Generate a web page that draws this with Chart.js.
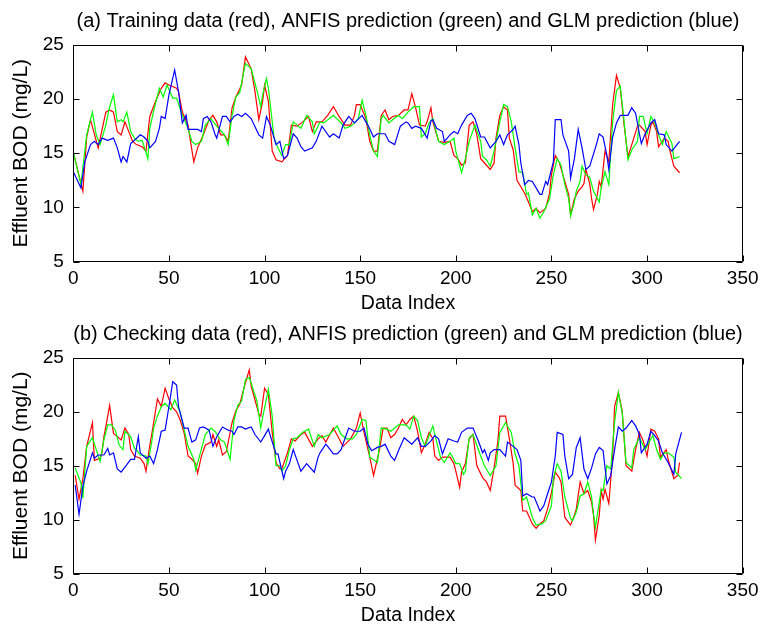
<!DOCTYPE html>
<html>
<head>
<meta charset="utf-8">
<script src="https://cdn.jsdelivr.net/npm/chart.js@4.4.1/dist/chart.umd.min.js"></script>
<style>
  html, body { margin: 0; padding: 0; background: #fff; }
  #wrap { position: relative; width: 772px; height: 628px; overflow: hidden; }
  canvas { position: absolute; left: 0; }
</style>
</head>
<body>
<div id="wrap">
  <canvas id="c1" width="772" height="313" style="top:0px"></canvas>
  <canvas id="c2" width="772" height="315" style="top:313px"></canvas>
</div>
<script>
// ---------- data (index, value) ----------
const xTicks = [0, 50, 100, 150, 200, 250, 300, 350];
const yTicks = [5, 10, 15, 20, 25];
const titleTrain = '(a) Training data (red), ANFIS prediction (green) and GLM prediction (blue)';
const titleCheck = '(b) Checking data (red), ANFIS prediction (green) and GLM prediction (blue)';
const xLabel = 'Data Index';
const yLabel = 'Effluent BOD (mg/L)';

const trainRed = [[0,15.1],[5,11.5],[7,16.5],[9,18.1],[13,15.5],[17,18.8],[19,19.0],[21,18.8],[23,17.0],[25,16.7],[27,17.9],[29,17.0],[31,16.1],[33,15.8],[36,15.6],[38,15.2],[40,18.4],[43,19.8],[46,21.0],[48,21.5],[50,21.3],[54,21.0],[55,20.7],[57,18.8],[60,17.6],[61,16.4],[63,14.2],[65,15.5],[68,16.7],[71,18.1],[73,18.5],[75,17.9],[77,16.7],[79,16.7],[81,16.1],[83,19.2],[85,20.2],[88,21.3],[90,23.9],[93,22.8],[95,20.7],[97,18.1],[99,19.8],[100,21.3],[102,19.8],[104,15.2],[106,14.4],[109,14.2],[112,14.8],[114,17.6],[117,17.5],[120,17.9],[123,18.4],[125,17.0],[127,17.9],[130,17.9],[133,18.5],[136,19.3],[139,18.4],[142,17.6],[145,17.6],[147,18.5],[148,19.5],[150,19.5],[153,18.2],[155,16.1],[157,15.2],[159,15.2],[161,18.5],[163,19.0],[165,18.1],[167,18.4],[170,18.5],[173,19.0],[175,19.0],[177,20.5],[179,19.2],[181,17.6],[184,17.5],[185,17.9],[187,19.2],[188,17.9],[191,16.1],[194,16.0],[197,16.1],[199,14.8],[201,14.5],[203,13.9],[205,14.1],[207,17.6],[209,17.9],[211,16.7],[213,14.5],[215,14.1],[218,13.5],[220,14.1],[221,16.4],[223,18.5],[225,19.3],[227,19.0],[228,16.4],[230,15.3],[232,12.5],[234,11.9],[236,11.3],[238,10.5],[240,9.6],[242,9.9],[244,9.5],[247,9.9],[249,11.3],[250,13.0],[252,14.8],[254,14.2],[257,12.4],[259,11.2],[260,9.3],[262,10.8],[264,11.5],[266,11.9],[267,12.2],[268,13.5],[270,12.2],[271,10.8],[272,9.8],[274,11.2],[275,12.4],[276,11.9],[278,15.2],[280,14.2],[282,19.5],[284,22.2],[286,21.0],[288,17.6],[290,14.7],[292,15.8],[295,17.5],[296,17.6],[299,17.0],[300,15.8],[302,17.6],[303,17.9],[305,17.0],[306,15.6],[309,16.4],[311,16.1],[312,15.2],[314,13.8],[317,13.2]];

const trainGreen = [[0,15.1],[4,12.1],[7,16.7],[10,18.8],[12,16.7],[14,15.8],[17,17.6],[19,19.3],[21,20.4],[23,17.9],[25,18.1],[26,17.9],[28,18.8],[30,17.0],[32,16.4],[34,16.1],[36,16.2],[39,14.5],[40,17.3],[42,18.9],[45,21.0],[47,20.2],[49,21.3],[52,20.1],[54,20.1],[57,18.5],[60,17.3],[62,16.1],[64,15.8],[67,16.1],[69,17.6],[72,18.2],[75,17.5],[79,16.7],[81,15.8],[83,18.5],[85,20.2],[87,20.6],[90,23.3],[93,22.8],[96,20.8],[98,19.3],[99,20.4],[101,21.9],[102,21.0],[105,16.4],[107,15.5],[109,14.8],[111,15.8],[113,15.8],[115,17.9],[117,17.6],[119,17.3],[121,18.1],[122,18.5],[125,17.9],[126,16.8],[129,17.9],[131,17.8],[136,18.5],[140,17.8],[142,17.3],[145,17.5],[147,17.8],[149,18.2],[151,19.9],[153,18.5],[155,16.7],[157,15.2],[159,14.7],[161,18.2],[162,18.5],[165,17.8],[167,18.1],[170,18.5],[172,18.2],[175,18.8],[178,19.3],[181,19.3],[182,16.5],[184,16.8],[186,17.8],[188,18.2],[191,16.1],[194,15.8],[197,16.1],[199,16.4],[200,15.2],[203,13.2],[205,14.5],[207,16.1],[210,17.6],[213,16.1],[214,14.7],[216,14.4],[218,13.8],[220,15.2],[223,17.9],[225,19.5],[227,19.3],[229,17.9],[231,15.5],[233,13.3],[235,13.2],[237,11.2],[238,11.3],[240,9.3],[242,9.9],[244,9.0],[246,9.6],[249,10.8],[251,13.0],[253,14.5],[255,13.9],[257,12.1],[259,10.8],[260,9.2],[262,10.5],[263,11.5],[265,12.4],[266,13.8],[268,13.0],[270,12.8],[272,11.5],[275,10.5],[276,11.8],[278,13.3],[280,12.1],[282,17.9],[284,20.8],[286,21.2],[288,17.9],[290,14.4],[292,15.3],[295,16.1],[296,18.4],[298,18.4],[300,16.8],[302,18.4],[304,17.8],[306,16.7],[308,15.8],[310,17.0],[313,15.9],[314,14.5],[317,14.7]];

const trainBlue = [[0,13.3],[4,11.8],[6,14.2],[9,15.8],[11,16.1],[13,15.8],[15,16.4],[18,16.2],[21,16.4],[23,15.5],[25,14.2],[26,14.7],[28,14.2],[30,15.9],[32,16.2],[35,16.7],[37,16.5],[39,16.1],[40,15.5],[43,16.1],[45,17.3],[46,18.4],[48,18.2],[50,20.4],[53,22.7],[55,20.7],[57,17.8],[59,18.5],[60,17.2],[65,17.2],[67,17.0],[68,18.2],[70,18.4],[72,17.9],[74,16.8],[75,16.4],[78,18.4],[80,18.4],[82,17.9],[84,18.4],[86,18.6],[88,18.4],[90,18.7],[93,18.2],[97,16.7],[99,16.4],[101,18.4],[103,17.6],[106,15.8],[108,16.1],[110,14.5],[112,14.8],[115,16.8],[117,16.4],[119,15.6],[121,15.2],[125,15.5],[127,16.1],[130,17.5],[134,16.5],[136,16.8],[139,16.4],[141,17.6],[144,18.4],[147,17.8],[151,18.5],[154,17.6],[157,16.5],[159,16.8],[163,16.8],[165,16.1],[168,15.8],[171,17.5],[174,17.9],[175,17.8],[177,17.3],[179,17.5],[182,17.3],[185,16.4],[187,18.0],[188,18.1],[190,17.3],[193,17.0],[194,16.1],[197,16.7],[199,17.0],[201,16.8],[203,17.6],[206,18.5],[208,18.7],[210,18.2],[213,16.5],[215,16.5],[218,15.5],[221,16.1],[223,16.7],[225,15.8],[227,16.7],[230,17.2],[231,17.5],[233,15.8],[234,14.1],[236,12.1],[238,12.5],[240,12.4],[242,11.8],[244,11.2],[245,11.2],[247,12.4],[248,12.1],[251,14.2],[252,18.1],[255,18.1],[256,16.7],[259,15.2],[260,12.7],[262,14.5],[264,17.2],[266,15.5],[268,13.5],[270,13.8],[273,15.5],[275,16.8],[277,16.5],[279,14.8],[280,13.5],[282,16.5],[284,17.8],[286,18.5],[288,18.5],[290,18.5],[292,19.2],[294,18.7],[296,16.8],[297,15.9],[299,16.8],[302,17.8],[304,18.1],[306,16.8],[309,16.7],[310,15.8],[313,15.2],[317,16.1]];

const checkRed = [[1,14.1],[3,11.9],[5,13.8],[7,16.8],[10,19.0],[11,15.5],[14,15.7],[15,16.2],[16,17.7],[17,18.6],[19,20.6],[21,18.0],[23,17.7],[25,17.4],[27,18.5],[29,17.9],[30,16.5],[32,15.9],[35,15.7],[37,15.2],[38,14.5],[40,16.9],[41,17.9],[44,21.2],[46,20.5],[48,22.2],[50,21.2],[52,20.4],[54,20.0],[56,19.2],[58,18.0],[60,15.9],[62,15.6],[64,15.2],[65,14.3],[67,15.9],[69,16.9],[72,17.2],[73,17.9],[75,16.8],[76,17.4],[78,16.0],[80,16.3],[83,19.0],[85,20.1],[87,20.7],[90,22.7],[92,23.9],[93,22.4],[97,19.8],[98,19.6],[100,22.2],[102,21.6],[104,18.1],[106,15.3],[108,14.7],[109,14.7],[112,16.2],[114,17.5],[116,17.3],[119,17.9],[121,18.1],[125,16.8],[128,17.5],[130,17.8],[132,17.2],[136,18.5],[139,17.5],[141,16.8],[145,17.5],[148,18.5],[150,19.9],[152,18.1],[155,15.8],[157,14.1],[160,16.4],[162,18.5],[164,18.5],[166,17.6],[168,17.9],[170,18.5],[172,19.3],[174,18.8],[176,19.3],[178,19.6],[180,18.2],[182,16.2],[184,17.0],[186,18.1],[188,17.5],[189,15.9],[191,15.5],[193,15.8],[197,15.8],[199,15.2],[200,14.5],[202,13.0],[203,14.4],[205,15.2],[207,17.5],[209,17.9],[211,15.0],[214,13.9],[216,13.5],[218,12.7],[220,14.8],[222,17.3],[223,19.6],[226,19.6],[228,17.5],[230,15.2],[231,13.2],[234,12.7],[235,10.8],[237,10.8],[240,9.6],[242,9.2],[244,9.6],[246,9.9],[248,11.0],[250,12.5],[252,14.4],[254,13.9],[255,13.5],[257,10.2],[260,9.5],[262,10.4],[263,11.0],[265,13.5],[267,12.4],[269,12.7],[271,11.6],[272,10.4],[273,8.1],[275,10.4],[276,12.7],[277,11.9],[278,12.8],[280,11.5],[282,15.9],[283,20.5],[285,21.8],[287,20.1],[289,15.0],[292,14.5],[294,16.5],[296,18.1],[298,17.3],[300,15.9],[302,18.4],[304,18.2],[306,17.5],[307,15.8],[310,16.5],[311,15.6],[314,13.8],[316,14.1],[317,15.3]];

const checkGreen = [[1,14.8],[4,13.4],[5,12.0],[7,16.8],[10,17.6],[12,16.5],[14,15.4],[16,17.4],[18,18.8],[20,18.8],[22,18.3],[24,16.9],[26,16.5],[27,18.2],[30,17.7],[32,16.6],[33,16.5],[35,16.0],[38,15.9],[39,15.2],[41,17.2],[42,18.5],[44,19.6],[46,20.5],[48,20.8],[51,20.2],[53,21.1],[56,19.9],[58,18.3],[60,16.8],[63,15.6],[64,14.6],[66,15.9],[69,17.9],[72,18.5],[74,18.2],[77,17.4],[79,17.2],[82,15.6],[84,19.2],[86,20.6],[88,21.0],[90,23.0],[92,23.2],[96,21.0],[98,18.5],[99,19.5],[102,22.1],[104,19.6],[106,15.0],[108,15.0],[109,14.5],[111,15.0],[113,16.5],[115,17.5],[117,17.6],[120,18.1],[123,18.4],[126,16.8],[128,17.9],[130,17.6],[134,17.9],[138,18.7],[140,17.9],[143,17.5],[146,17.5],[148,17.9],[151,19.3],[153,19.2],[155,15.8],[159,15.3],[161,18.5],[164,18.4],[166,18.2],[170,18.8],[172,18.8],[174,18.8],[176,18.4],[178,19.6],[180,19.2],[182,17.6],[184,16.8],[186,17.8],[188,18.7],[190,17.2],[192,15.8],[194,15.3],[197,16.2],[198,15.9],[200,15.2],[202,15.2],[204,14.2],[205,14.5],[207,17.6],[209,17.9],[213,15.9],[215,15.0],[218,14.1],[221,15.0],[223,18.1],[226,19.0],[229,18.1],[231,16.1],[233,15.0],[235,11.8],[237,12.1],[240,10.2],[242,9.5],[245,9.6],[247,9.9],[250,11.3],[251,13.8],[253,15.2],[255,14.5],[257,12.1],[260,10.1],[261,9.9],[263,10.7],[265,12.2],[267,12.4],[269,13.5],[271,12.1],[272,10.5],[273,9.3],[275,11.6],[276,12.8],[277,12.7],[279,15.0],[281,14.7],[283,19.0],[285,21.8],[287,19.9],[289,15.3],[292,14.8],[293,16.5],[296,17.6],[299,16.5],[303,17.8],[305,16.5],[307,15.6],[309,16.2],[311,16.2],[314,15.8],[315,14.4],[318,13.8]];

const checkBlue = [[1,13.2],[3,10.5],[5,13.1],[7,14.5],[10,16.2],[11,15.7],[13,16.0],[16,16.0],[18,16.6],[19,16.0],[21,16.2],[23,14.7],[25,14.4],[28,15.1],[30,15.6],[32,15.6],[34,17.7],[35,16.2],[38,15.7],[40,15.9],[42,15.2],[44,16.5],[46,18.2],[48,18.3],[50,20.5],[52,22.8],[54,22.5],[55,20.5],[58,18.5],[60,18.5],[62,17.2],[64,17.4],[66,18.5],[68,18.6],[71,18.3],[73,16.8],[75,17.7],[78,18.6],[81,18.3],[83,18.2],[84,17.9],[86,18.6],[88,18.6],[90,18.4],[93,18.6],[95,17.9],[98,17.2],[100,17.8],[102,18.4],[103,17.8],[106,16.1],[107,16.1],[110,13.8],[111,14.5],[113,15.2],[115,16.5],[117,15.5],[119,14.5],[122,15.2],[126,14.4],[128,15.8],[129,16.2],[132,17.0],[133,16.8],[136,16.1],[138,16.1],[140,16.5],[142,17.5],[144,18.5],[147,18.2],[150,18.2],[152,18.5],[154,17.0],[156,16.4],[159,16.7],[161,16.8],[163,17.0],[166,15.9],[168,15.5],[170,16.4],[173,17.6],[175,17.3],[177,17.0],[180,17.6],[182,16.8],[184,16.8],[187,17.3],[189,17.8],[191,17.5],[193,16.1],[196,17.5],[199,17.3],[201,17.2],[203,18.1],[206,18.5],[209,18.5],[212,17.2],[214,16.2],[215,16.5],[217,15.5],[218,16.2],[220,16.5],[223,16.5],[226,15.9],[227,17.2],[230,16.8],[232,16.5],[234,15.5],[235,12.2],[237,12.4],[240,12.1],[241,12.1],[244,10.8],[246,11.3],[248,12.4],[250,13.5],[252,15.9],[253,18.1],[256,17.9],[257,15.9],[259,13.8],[261,14.2],[263,16.7],[265,17.6],[267,14.7],[269,13.8],[271,14.8],[273,16.1],[275,16.7],[277,16.4],[279,13.3],[281,14.1],[283,16.5],[285,18.6],[287,18.2],[289,18.5],[292,19.2],[294,18.7],[296,17.9],[297,16.2],[300,17.0],[302,18.2],[304,17.8],[306,17.3],[308,16.2],[311,15.3],[314,14.2],[315,16.1],[318,18.1]];

// ---------- rendering ----------
const FONT = "'Liberation Sans', Arial, Helvetica, sans-serif";
Chart.defaults.font.family = FONT;
Chart.defaults.color = '#000';

const framePlugin = {
  id: 'matlabFrame',
  afterDatasetsDraw(chart) {
    const { ctx, chartArea: a, scales } = chart;
    const xs = scales.x, ys = scales.y;
    const L = Math.round(a.left) + 0.5, R = Math.round(a.right) - 0.5;
    const T = Math.round(a.top) + 0.5, B = Math.round(a.bottom) - 0.5;
    const tl = 6;
    ctx.save();
    ctx.strokeStyle = '#000';
    ctx.lineWidth = 1;
    ctx.beginPath();
    ctx.rect(L, T, R - L, B - T);
    xTicks.forEach(v => {
      const px = Math.round(xs.getPixelForValue(v)) + 0.5;
      ctx.moveTo(px, B); ctx.lineTo(px, B - tl);
      ctx.moveTo(px, T); ctx.lineTo(px, T + tl);
    });
    yTicks.forEach(v => {
      const py = Math.round(ys.getPixelForValue(v)) + 0.5;
      ctx.moveTo(L, py); ctx.lineTo(L + tl, py);
      ctx.moveTo(R, py); ctx.lineTo(R - tl, py);
    });
    ctx.stroke();
    ctx.restore();
  }
};

function toPts(arr) { return arr.map(p => ({ x: p[0], y: p[1] })); }

function makeChart(id, title, red, green, blue, padBottom) {
  const ds = (label, pts, color) => ({
    label, data: toPts(pts), borderColor: color, backgroundColor: color,
    borderWidth: 1.2, pointRadius: 0, tension: 0, fill: false
  });
  return new Chart(document.getElementById(id), {
    type: 'line',
    data: {
      datasets: [
        ds('GLM prediction', blue, '#0000ff'),
        ds('ANFIS prediction', green, '#00ff00'),
        ds('data', red, '#ff0000')
      ]
    },
    options: {
      responsive: false,
      animation: false,
      devicePixelRatio: 1,
      parsing: false,
      normalized: true,
      layout: { padding: { left: 0, right: 29.3, top: 0, bottom: padBottom } },
      plugins: {
        legend: { display: false },
        tooltip: { enabled: false },
        title: {
          display: true, text: title, color: '#000', fullSize: false,
          font: { family: FONT, size: 20, weight: 'normal', lineHeight: 1.2 },
          padding: { top: 9, bottom: 12 }
        }
      },
      scales: {
        x: {
          type: 'linear', min: 0, max: 350,
          afterBuildTicks: s => { s.ticks = xTicks.map(v => ({ value: v })); },
          grid: { display: false, drawTicks: false },
          border: { display: false },
          ticks: { color: '#000', font: { size: 19, lineHeight: 1.2 }, padding: 5.8, maxRotation: 0, autoSkip: false },
          title: { display: true, text: xLabel, color: '#000', font: { size: 19.5, lineHeight: 1 }, padding: { top: 0, bottom: 0 } },
          afterFit: s => { s.height = 51.5; }
        },
        y: {
          type: 'linear', min: 5, max: 25,
          afterBuildTicks: s => { s.ticks = yTicks.map(v => ({ value: v })); },
          grid: { display: false, drawTicks: false },
          border: { display: false },
          ticks: { color: '#000', font: { size: 19, lineHeight: 1.2 }, padding: 9.5, autoSkip: false },
          title: { display: true, text: yLabel, color: '#000', font: { size: 21, lineHeight: 1.2 }, padding: { top: 9.1, bottom: 0 } },
          afterFit: s => { s.width = 73.3; }
        }
      }
    },
    plugins: [framePlugin]
  });
}

makeChart('c1', titleTrain, trainRed, trainGreen, trainBlue, 0);
makeChart('c2', titleCheck, checkRed, checkGreen, checkBlue, 3);
</script>
</body>
</html>
